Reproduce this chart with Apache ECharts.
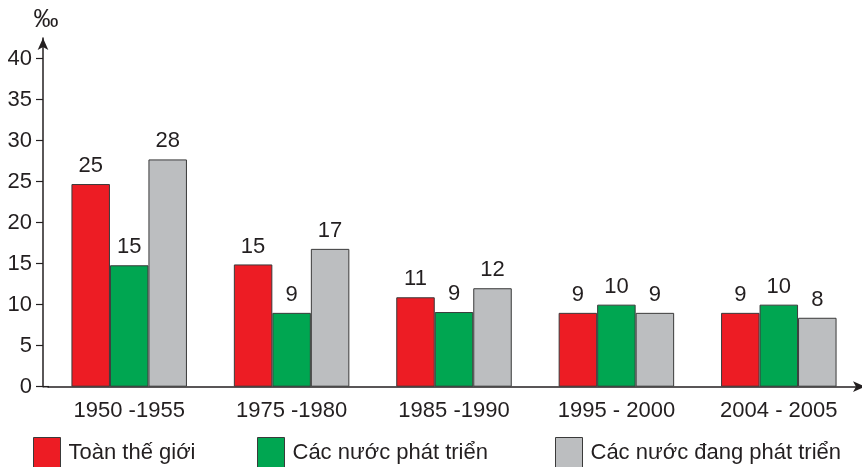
<!DOCTYPE html>
<html>
<head>
<meta charset="utf-8">
<script src="https://cdn.jsdelivr.net/npm/echarts@6/dist/echarts.min.js"></script>
<style>
html,body{margin:0;padding:0;background:#fff;}
#c{width:862px;height:467px;}
</style>
</head>
<body>
<div id="c"></div>
<script>
const categories = ['1950 -1955', '1975 -1980', '1985 -1990', '1995 - 2000', '2004 - 2005'];
const seriesNames = ['Toàn thế giới', 'Các nước phát triển', 'Các nước đang phát triển'];
const worldValues = [24.7, 14.9, 10.9, 9, 9];
const developedValues = [14.8, 9, 9.1, 10, 10];
const developingValues = [27.7, 16.8, 12, 9, 8.4];
const worldLabels = [25, 15, 11, 9, 9];
const developedLabels = [15, 9, 9, 10, 10];
const developingLabels = [28, 17, 12, 9, 8];
const yTicks = [0, 5, 10, 15, 20, 25, 30, 35, 40];
const unitLabel = '‰';

const colors = ['#ED1C24', '#00A651', '#BCBEC0'];
const ink = '#231F20';
const font = 'Liberation Sans, Arial, sans-serif';

function mkSeries(name, values, labels, color) {
  return {
    name: name,
    type: 'bar',
    data: values,
    barWidth: 38.5,
    barGap: '0%',
    itemStyle: { color: color, borderColor: '#3a3a3a', borderWidth: 1 },
    label: {
      show: true, position: 'top', distance: 7,
      fontFamily: font, fontSize: 22, color: ink,
      formatter: p => String(labels[p.dataIndex])
    },
    emphasis: { disabled: true },
    animation: false
  };
}

const legendPos = [33, 257, 555];
const chart = echarts.init(document.getElementById('c'), null, { renderer: 'canvas' });
chart.setOption({
  animation: false,
  grid: { left: 48, right: 2, top: 38, bottom: 80.3, containLabel: false },
  legend: seriesNames.map((n, i) => ({
    data: [n], left: legendPos[i], top: 437,
    icon: 'rect', itemWidth: 27, itemHeight: 30, itemGap: 0,
    itemStyle: { borderColor: '#3a3a3a', borderWidth: 1 },
    textStyle: { fontFamily: font, fontSize: 22, color: ink, padding: [0, 0, 0, 3] },
    selectedMode: false, padding: 0
  })),
  xAxis: {
    type: 'category',
    data: categories,
    axisLine: { show: true, lineStyle: { color: ink, width: 1.5 }, symbol: ['none', 'arrow'], symbolSize: [8, 12], symbolOffset: [0, 5] },
    axisTick: { show: false },
    axisLabel: { fontFamily: font, fontSize: 22, color: ink, margin: 13 }
  },
  yAxis: {
    type: 'value',
    min: 0, max: 42.5,
    offset: 5,
    name: unitLabel,
    nameLocation: 'end',
    nameGap: 5,
    nameTextStyle: { fontFamily: font, fontSize: 25, color: ink, padding: [0, 0, 0, 6] },
    splitLine: { show: false },
    axisLine: { show: true, lineStyle: { color: ink, width: 1.5 }, symbol: ['none', 'arrow'], symbolSize: [8, 12], symbolOffset: [0, 0] },
    axisTick: { show: true, inside: false, length: 7, lineStyle: { color: ink, width: 1.2 }, customValues: yTicks },
    axisLabel: { fontFamily: font, fontSize: 22, color: ink, margin: 11, customValues: yTicks }
  },
  graphic: [{
    type: 'line', shape: { x1: 43, y1: 386.7, x2: 49, y2: 386.7 },
    style: { stroke: ink, lineWidth: 1.5 }
  }],
  series: [
    mkSeries(seriesNames[0], worldValues, worldLabels, colors[0]),
    mkSeries(seriesNames[1], developedValues, developedLabels, colors[1]),
    mkSeries(seriesNames[2], developingValues, developingLabels, colors[2])
  ]
});
</script>
</body>
</html>
